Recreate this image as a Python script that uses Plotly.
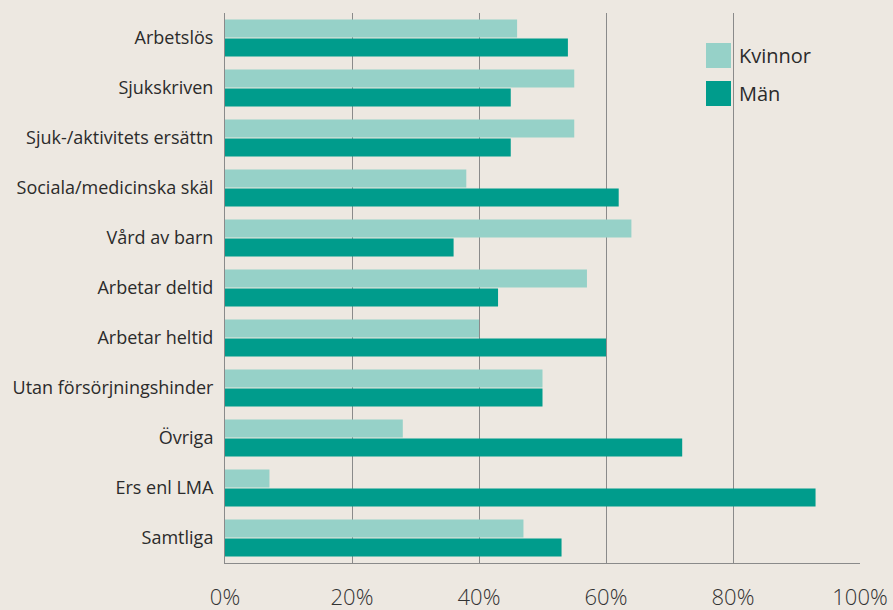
import plotly.graph_objects as go

categories = ["Arbetslös", "Sjukskriven", "Sjuk-/aktivitets ersättn", "Sociala/medicinska skäl",
              "Vård av barn", "Arbetar deltid", "Arbetar heltid", "Utan försörjningshinder",
              "Övriga", "Ers enl LMA", "Samtliga"]
kvinnor = [46, 55, 55, 38, 64, 57, 40, 50, 28, 7, 47]
man = [54, 45, 45, 62, 36, 43, 60, 50, 72, 93, 53]
series_names = ["Kvinnor", "Män"]
colors = ["#96d1c8", "#009c8c"]
x_ticks = [0, 20, 40, 60, 80, 100]

BG = "#ede8e1"
GRID = "#8a8a8a"

fig = go.Figure()
for name, vals, col in zip(series_names, [kvinnor, man], colors):
    fig.add_trace(go.Bar(y=categories, x=vals, name=name, orientation="h",
                         marker=dict(color=col, line=dict(width=0)), showlegend=False))

W, H = 893, 610
L, R, T, B = 225, 33, 13, 47
pw, ph = W - L - R, H - T - B

def px(xpix):
    return (xpix - L) / pw

def py(ypix):
    return (H - B - ypix) / ph

# custom legend (large swatches)
for i, (name, col) in enumerate(zip(series_names, colors)):
    top = 43 + i * 38
    fig.add_shape(type="rect", xref="paper", yref="paper",
                  x0=px(706), x1=px(731), y0=py(top + 25), y1=py(top),
                  fillcolor=col, line=dict(width=0))
    fig.add_annotation(xref="paper", yref="paper", x=px(737), y=py(top + 12.5),
                       text=name, showarrow=False, xanchor="left", yanchor="middle",
                       font=dict(family="Open Sans, sans-serif", size=20, color="#2b2b2b"))

fig.update_layout(
    width=W, height=H, autosize=False,
    paper_bgcolor=BG, plot_bgcolor=BG,
    margin=dict(l=L, r=R, t=T, b=B),
    barmode="group", bargap=0.24, bargroupgap=0.04,
    font=dict(family="Open Sans, sans-serif", color="#2b2b2b"),
)
fig.update_xaxes(range=[0, 100], tickvals=x_ticks, ticktext=[f"{v}%" for v in x_ticks],
                 automargin=False,
                 showgrid=True, gridcolor=GRID, gridwidth=1, zeroline=False,
                 showline=True, linecolor=GRID, linewidth=1,
                 ticks="", ticklabelstandoff=15,
                 tickfont=dict(family="Open Sans, sans-serif", size=22, color="#333333", weight=300))
fig.update_yaxes(autorange="reversed", categoryorder="array", categoryarray=categories,
                 automargin=False,
                 showgrid=False, zeroline=False, showline=True, linecolor=GRID, linewidth=1,
                 ticks="", ticklabelstandoff=7,
                 tickfont=dict(family="Open Sans, sans-serif", size=18, color="#2b2b2b"))

fig.write_html("out.html", config={"responsive": False, "displayModeBar": False},
               post_script="document.body.style.margin='0';document.body.style.overflow='hidden';")
